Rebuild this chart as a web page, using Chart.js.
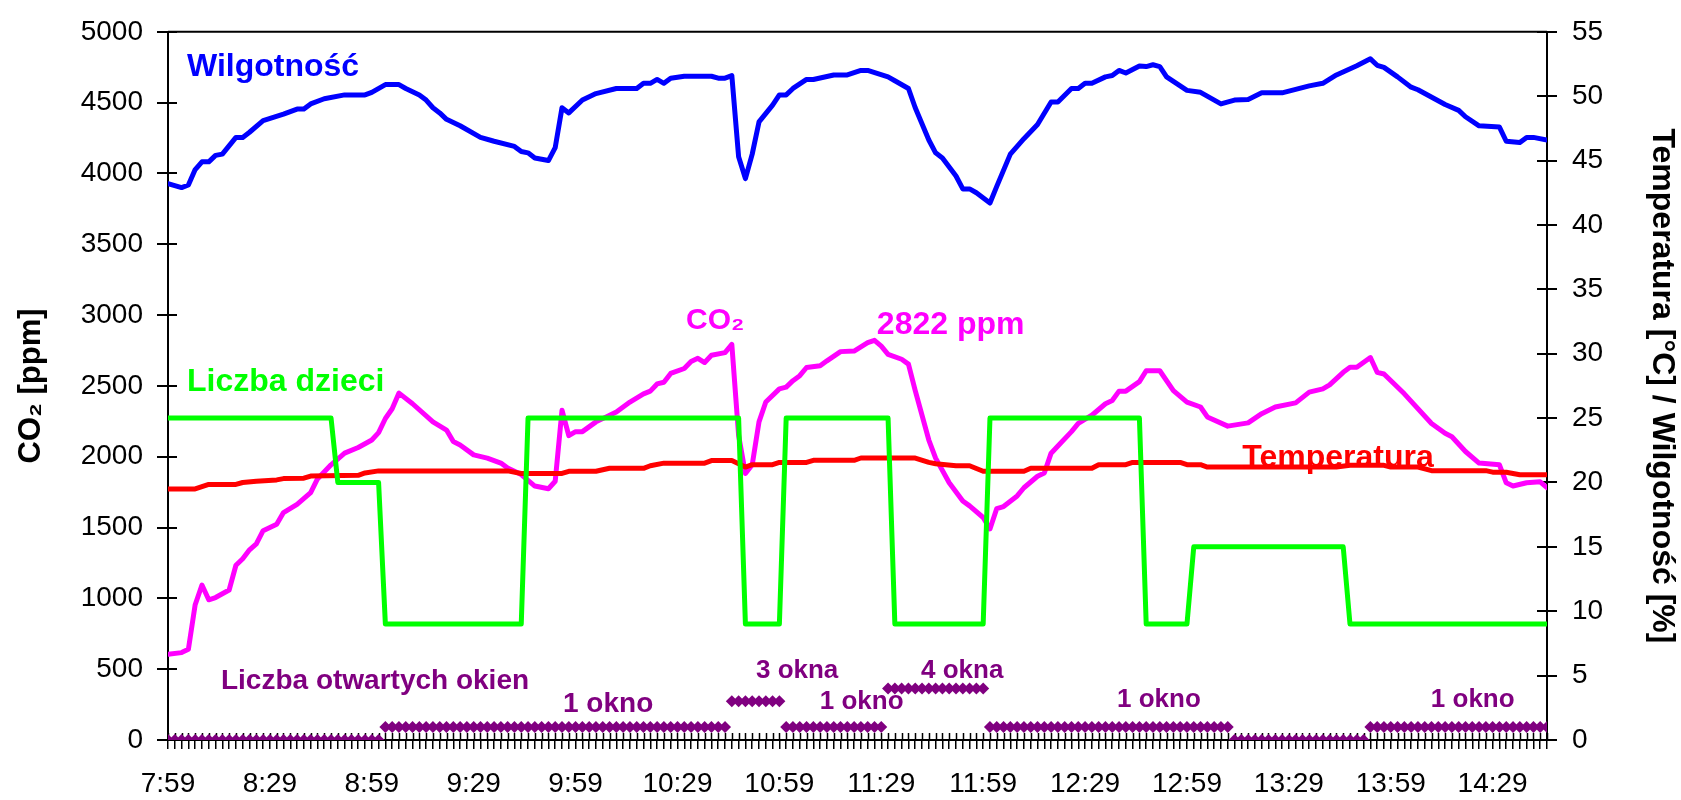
<!DOCTYPE html>
<html>
<head>
<meta charset="utf-8">
<script src="https://cdn.jsdelivr.net/npm/chart.js"></script>
<style>
  html, body { margin: 0; padding: 0; background: #fff; }
  #chart { display: block; }
</style>
</head>
<body>
<canvas id="chart" width="1681" height="800"></canvas>
<script>
// times are minutes after midnight (7:59 = 479), the logger samples every 2 minutes
const firstSample = 479;
const lastSample = 885;
const labelStep = 30;

// CO2 [ppm] - left axis
const co2Time = [479,483,485,487,489,491,493,497,499,501,503,505,507,511,513,517,521,523,527,531,535,539,541,543,545,547,551,557,561,563,565,569,573,577,579,583,587,591,593,595,597,599,601,605,611,615,619,621,623,625,627,631,633,635,637,639,643,645,647,649,651,653,655,659,661,663,665,667,671,673,677,681,685,687,689,691,695,697,699,703,705,709,713,715,719,721,723,725,729,731,735,737,739,741,745,747,751,755,757,759,761,765,767,771,775,779,783,785,791,797,801,805,811,815,819,821,825,827,829,833,835,837,843,851,855,857,861,865,871,873,875,879,883,885];
const co2Ppm = [605,617,640,955,1094,990,1006,1059,1234,1280,1343,1385,1478,1524,1606,1664,1746,1843,1943,2025,2065,2118,2170,2270,2339,2449,2374,2246,2188,2107,2083,2013,1990,1955,1920,1874,1793,1774,1827,2328,2149,2177,2177,2246,2316,2386,2444,2463,2514,2526,2588,2623,2672,2695,2665,2716,2735,2793,2150,1881,1943,2246,2386,2479,2491,2537,2572,2630,2642,2677,2742,2746,2805,2822,2781,2723,2688,2654,2467,2118,1990,1816,1688,1653,1571,1490,1634,1648,1723,1781,1862,1885,2025,2076,2177,2235,2293,2374,2397,2463,2463,2530,2607,2607,2467,2386,2351,2281,2216,2239,2304,2351,2380,2456,2479,2507,2596,2631,2631,2700,2596,2584,2444,2235,2165,2141,2037,1955,1943,1816,1793,1816,1823,1781];

// Wilgotnosc [%] - right axis
const humTime = [479,483,485,487,489,491,493,495,499,501,503,507,513,517,519,521,525,531,537,539,543,547,549,553,555,557,559,561,565,571,575,581,583,585,587,591,593,595,597,601,605,611,617,619,621,623,625,627,631,639,641,643,645,647,649,651,653,657,659,661,663,667,669,675,679,683,685,691,693,697,699,703,705,707,711,713,715,717,721,723,727,731,735,739,741,745,747,749,751,755,757,759,761,765,767,769,771,773,779,783,789,793,797,801,807,815,819,823,829,833,835,837,841,845,847,855,859,861,865,871,873,877,879,881,885];
const humPct = [43.2,42.9,43.1,44.3,44.9,44.9,45.4,45.5,46.8,46.8,47.2,48.1,48.6,49.0,49.0,49.4,49.8,50.1,50.1,50.3,50.9,50.9,50.6,50.1,49.7,49.1,48.7,48.2,47.7,46.8,46.5,46.1,45.7,45.6,45.2,45.0,46.0,49.1,48.7,49.7,50.2,50.6,50.6,51.0,51.0,51.3,51.0,51.4,51.55,51.55,51.4,51.4,51.6,45.3,43.6,45.5,48.0,49.3,50.1,50.1,50.6,51.3,51.3,51.65,51.65,52.0,52.0,51.5,51.2,50.6,49.1,46.6,45.6,45.2,43.8,42.8,42.8,42.5,41.7,43.0,45.5,46.7,47.8,49.55,49.55,50.6,50.6,51.0,51.0,51.5,51.6,52.0,51.8,52.35,52.3,52.44,52.3,51.5,50.45,50.3,49.4,49.7,49.75,50.26,50.26,50.8,51.0,51.65,52.37,52.9,52.4,52.24,51.5,50.7,50.5,49.35,48.9,48.4,47.7,47.6,46.5,46.4,46.8,46.8,46.6];

// Temperatura [C] - right axis
const tempTime = [479,487,491,499,501,505,511,513,519,521,535,537,541,579,583,595,597,605,609,619,621,625,637,639,645,649,651,657,659,667,669,681,683,699,703,705,711,715,719,731,733,751,753,761,763,777,779,783,785,823,827,837,839,847,851,867,869,873,877,885];
const tempC = [19.5,19.5,19.85,19.85,20.0,20.1,20.2,20.3,20.33,20.5,20.56,20.74,20.9,20.9,20.7,20.7,20.87,20.87,21.1,21.1,21.3,21.5,21.5,21.7,21.7,21.2,21.38,21.38,21.56,21.56,21.72,21.72,21.9,21.9,21.56,21.46,21.3,21.3,20.87,20.87,21.1,21.1,21.38,21.38,21.56,21.56,21.38,21.38,21.2,21.2,21.33,21.33,21.2,21.2,20.92,20.92,20.8,20.8,20.6,20.6];

// Liczba dzieci - right axis
const kidsTime = [479,527,529,541,543,583,585,647,649,659,661,691,693,719,721,765,767,779,781,825,827,885];
const kidsCount = [25,25,20,20,9,9,25,25,9,9,25,25,9,9,25,25,9,9,15,15,9,9];

// Liczba otwartych okien, as runs of samples - right axis
const winStart = [479,543,645,661,691,721,793,833];
const winEnd = [541,643,659,689,719,791,831,885];
const winCount = [0,1,3,1,4,1,0,1];

const pairs = (xs, ys) => xs.map((x, i) => ({x: x, y: ys[i]}));

const windowPoints = [];
winStart.forEach((s, i) => {
  for (let t = s; t <= winEnd[i]; t += 2) windowPoints.push({x: t, y: winCount[i]});
});

const clock = m => Math.floor(m / 60) + ':' + String(m % 60).padStart(2, '0');

const FONT = '"Liberation Sans", Arial, sans-serif';
const PURPLE = '#800080';

// text labels inside the plot, anchored to time / right-axis value
const notes = [
  {text: 'Wilgotność', t: 484.6, v: 51.55, size: 32, color: '#0000ff'},
  {text: 'Liczba dzieci', t: 484.6, v: 27.14, size: 32, color: '#00ff00'},
  {text: 'CO₂', t: 631.5, v: 31.9, size: 30, color: '#ff00ff'},
  {text: '2822 ppm', t: 687.7, v: 31.5, size: 32, color: '#ff00ff'},
  {text: 'Temperatura', t: 795.3, v: 21.2, size: 32, color: '#ff0000'},
  {text: 'Liczba otwartych okien', t: 494.6, v: 3.97, size: 28, color: PURPLE},
  {text: '1 okno', t: 595.3, v: 2.17, size: 28, color: PURPLE},
  {text: '3 okna', t: 652.1, v: 4.82, size: 26, color: PURPLE},
  {text: '1 okno', t: 670.9, v: 2.44, size: 26, color: PURPLE},
  {text: '4 okna', t: 700.7, v: 4.84, size: 26, color: PURPLE},
  {text: '1 okno', t: 758.4, v: 2.56, size: 26, color: PURPLE},
  {text: '1 okno', t: 850.8, v: 2.54, size: 26, color: PURPLE}
];

// top frame, inner halves of the crossing tick marks, and the text labels
const decorations = {
  id: 'decorations',
  beforeDatasetsDraw(chart) {
    const {ctx, chartArea: a, scales} = chart;
    const x = scales.x, y = scales.y, y1 = scales.y1;
    ctx.save();
    ctx.strokeStyle = '#000';
    ctx.lineWidth = 2;
    ctx.beginPath();
    ctx.moveTo(a.left, a.top);
    ctx.lineTo(a.right, a.top);
    y.ticks.forEach(t => {
      const p = Math.round(y.getPixelForValue(t.value));
      ctx.moveTo(a.left, p); ctx.lineTo(a.left + 9, p);
    });
    y1.ticks.forEach(t => {
      const p = Math.round(y1.getPixelForValue(t.value));
      ctx.moveTo(a.right, p); ctx.lineTo(a.right - 10, p);
    });
    ctx.stroke();
    ctx.lineWidth = 1.5;
    ctx.beginPath();
    x.ticks.forEach(t => {
      const p = Math.round(x.getPixelForValue(t.value)) + 0.5;
      ctx.moveTo(p, a.bottom); ctx.lineTo(p, a.bottom - 7);
    });
    ctx.stroke();

    ctx.textAlign = 'left';
    ctx.textBaseline = 'alphabetic';
    notes.forEach(n => {
      ctx.font = 'bold ' + n.size + 'px ' + FONT;
      ctx.fillStyle = n.color;
      ctx.fillText(n.text, x.getPixelForValue(n.t), y1.getPixelForValue(n.v));
    });
    ctx.restore();
  }
};

document.addEventListener('DOMContentLoaded', function() {
  if (typeof Chart === 'undefined') {
    console.error('Chart.js is not loaded');
    return;
  }
  Chart.defaults.font.family = FONT;
  Chart.defaults.color = '#000';

  const lineStyle = {
    pointRadius: 0,
    borderJoinStyle: 'round',
    borderCapStyle: 'round',
    tension: 0,
    fill: false
  };

  new Chart(document.getElementById('chart'), {
    type: 'line',
    data: {
      datasets: [
        Object.assign({label: 'Liczba otwartych okien', data: windowPoints, yAxisID: 'y1', order: 0,
          showLine: false, pointStyle: 'rectRot', pointRadius: 6,
          pointBackgroundColor: PURPLE, pointBorderColor: PURPLE, pointBorderWidth: 0}),
        Object.assign({label: 'Liczba dzieci', data: pairs(kidsTime, kidsCount), yAxisID: 'y1', order: 1,
          borderColor: '#00ff00', borderWidth: 5}, lineStyle),
        Object.assign({label: 'Temperatura', data: pairs(tempTime, tempC), yAxisID: 'y1', order: 2,
          borderColor: '#ff0000', borderWidth: 5}, lineStyle),
        Object.assign({label: 'Wilgotność', data: pairs(humTime, humPct), yAxisID: 'y1', order: 3,
          borderColor: '#0000ff', borderWidth: 5}, lineStyle),
        Object.assign({label: 'CO₂', data: pairs(co2Time, co2Ppm), yAxisID: 'y', order: 4,
          borderColor: '#ff00ff', borderWidth: 5}, lineStyle)
      ]
    },
    options: {
      responsive: false,
      animation: false,
      devicePixelRatio: 1,
      layout: {padding: {top: 24, left: 0, right: 0, bottom: 0}},
      plugins: {legend: {display: false}, tooltip: {enabled: false}},
      scales: {
        x: {
          type: 'linear',
          min: firstSample,
          max: lastSample,
          afterBuildTicks: s => {
            const ticks = [];
            for (let t = firstSample; t <= lastSample; t += 2) ticks.push({value: t});
            s.ticks = ticks;
          },
          afterFit: s => { s.height = 60; },
          grid: {drawOnChartArea: false, tickLength: 9, color: '#000', lineWidth: 1.5},
          border: {color: '#000', width: 2},
          ticks: {
            autoSkip: false,
            maxRotation: 0,
            minRotation: 0,
            padding: 18,
            font: {size: 28},
            callback: v => ((v - firstSample) % labelStep === 0 ? clock(v) : '')
          }
        },
        y: {
          position: 'left',
          min: 0,
          max: 5000,
          afterFit: s => { s.width = 168; },
          grid: {drawOnChartArea: false, tickLength: 11, color: '#000', lineWidth: 2},
          border: {color: '#000', width: 2},
          ticks: {stepSize: 500, padding: 14, font: {size: 28}, callback: v => String(v)},
          title: {
            display: true,
            text: 'CO₂ [ppm]',
            font: {size: 31, weight: 'bold', lineHeight: 1},
            padding: {top: 16, bottom: 0}
          }
        },
        y1: {
          position: 'right',
          min: 0,
          max: 55,
          afterFit: s => { s.width = 134; },
          grid: {drawOnChartArea: false, tickLength: 10, color: '#000', lineWidth: 2},
          border: {color: '#000', width: 2},
          ticks: {stepSize: 5, padding: 15, font: {size: 28}, callback: v => String(v)},
          title: {
            display: true,
            text: 'Temperatura [°C] / Wilgotność [%]',
            font: {size: 32, weight: 'bold', lineHeight: 1},
            padding: {top: 3, bottom: 0}
          }
        }
      }
    },
    plugins: [decorations]
  });
});
</script>
</body>
</html>
